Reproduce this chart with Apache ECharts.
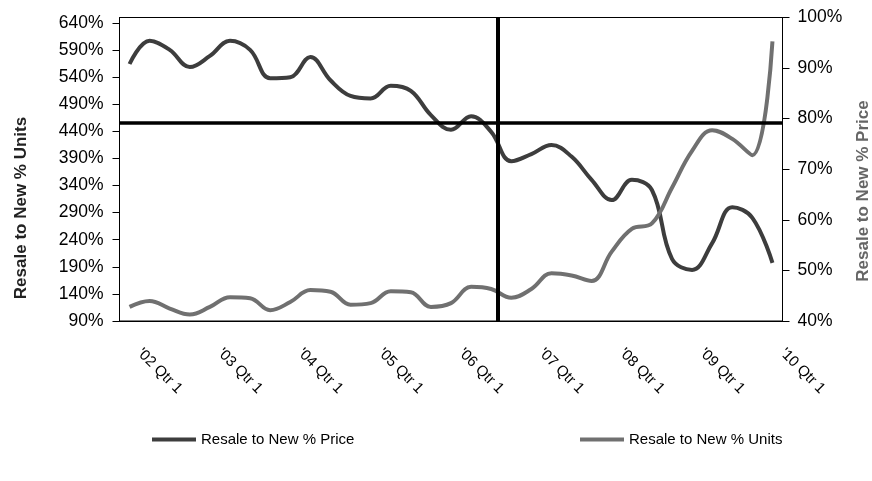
<!DOCTYPE html>
<html><head><meta charset="utf-8">
<script src="https://cdn.jsdelivr.net/npm/echarts@6/dist/echarts.min.js"></script>
<style>html,body{margin:0;padding:0;background:#fff}#c{width:872px;height:481px}</style>
</head><body><div id="c"></div>
<script>
const CATEGORIES = [
  "'02 Qtr 1","'02 Qtr 2","'02 Qtr 3","'02 Qtr 4",
  "'03 Qtr 1","'03 Qtr 2","'03 Qtr 3","'03 Qtr 4",
  "'04 Qtr 1","'04 Qtr 2","'04 Qtr 3","'04 Qtr 4",
  "'05 Qtr 1","'05 Qtr 2","'05 Qtr 3","'05 Qtr 4",
  "'06 Qtr 1","'06 Qtr 2","'06 Qtr 3","'06 Qtr 4",
  "'07 Qtr 1","'07 Qtr 2","'07 Qtr 3","'07 Qtr 4",
  "'08 Qtr 1","'08 Qtr 2","'08 Qtr 3","'08 Qtr 4",
  "'09 Qtr 1","'09 Qtr 2","'09 Qtr 3","'09 Qtr 4",
  "'10 Qtr 1"
];
// Resale to New % Price (right axis, %)
const PRICE = [90.8, 95.4, 93.6, 90.2, 92.4, 95.4, 93.6, 88.0, 88.2, 92.2, 87.6, 84.5, 84.0, 86.5, 85.5, 80.7,
               77.8, 80.5, 77.4, 71.6, 73.0, 74.8, 72.5, 67.9, 63.9, 67.9, 65.9, 52.3, 50.1, 55.4, 62.5, 60.4, 51.5];
// Resale to New % Units (left axis, %)
const UNITS = [116, 127, 113, 102, 116, 134, 132, 110, 125, 147, 144, 120, 123, 145, 143, 116,
               123, 153, 149, 133, 149, 178, 174, 164, 218, 260, 270, 336, 404, 442, 426, 396, 606];
const LEFT_TICKS = [90, 140, 190, 240, 290, 340, 390, 440, 490, 540, 590, 640];
const RIGHT_TICKS = [40, 50, 60, 70, 80, 90, 100];
const PRICE_REF = 79.1;   // horizontal reference line (right axis %)
const TIME_REF = 18.82;   // vertical reference line (quarters from axis start)
const NAME_PRICE = 'Resale to New % Price';
const NAME_UNITS = 'Resale to New % Units';

const FONT = '"Liberation Sans", Arial, sans-serif';
const chart = echarts.init(document.getElementById('c'), null, {renderer: 'canvas'});
const pct = v => v + '%';

chart.setOption({
  animation: false,
  backgroundColor: '#fff',
  textStyle: {fontFamily: FONT},
  grid: {left: 119.5, right: 89.5, top: 17.5, bottom: 160, show: true, borderColor: '#000', borderWidth: 1, backgroundColor: 'transparent'},
  legend: [
    {data: [NAME_PRICE], left: 147, top: 427, icon: 'rect', itemWidth: 44, itemHeight: 4,
     textStyle: {fontFamily: FONT, fontSize: 15, color: '#000'}},
    {data: [NAME_UNITS], left: 575, top: 427, icon: 'rect', itemWidth: 44, itemHeight: 4,
     textStyle: {fontFamily: FONT, fontSize: 15, color: '#000'}}
  ],
  xAxis: [
    {type: 'category', data: CATEGORIES, boundaryGap: true,
     axisLine: {lineStyle: {color: '#000', width: 1}},
     axisTick: {interval: 3, length: 5, lineStyle: {color: '#000'}},
     axisLabel: {interval: 3, rotate: -45, margin: 20, padding: [0, 0, 14, 14], fontSize: 15, color: '#000', fontFamily: FONT},
     splitLine: {show: false}},
    {type: 'value', min: 0, max: 33, show: false}
  ],
  yAxis: [
    {type: 'value', min: 90, max: 650, interval: 50, position: 'left',
     axisLine: {show: true, lineStyle: {color: '#000'}},
     axisTick: {show: true, length: 7, customValues: LEFT_TICKS, lineStyle: {color: '#000'}},
     axisLabel: {customValues: LEFT_TICKS, formatter: pct, margin: 16, fontSize: 17.5, color: '#000', fontFamily: FONT},
     splitLine: {show: false}},
    {type: 'value', min: 40, max: 100, interval: 10, position: 'right',
     axisLine: {show: true, lineStyle: {color: '#000'}},
     axisTick: {show: true, length: 7, customValues: RIGHT_TICKS, lineStyle: {color: '#000'}},
     axisLabel: {customValues: RIGHT_TICKS, formatter: pct, margin: 15, fontSize: 17.5, color: '#000', fontFamily: FONT},
     splitLine: {show: false}}
  ],
  graphic: [
    {type: 'text', x: 21, y: 208, rotation: Math.PI / 2,
     style: {text: NAME_UNITS, font: 'bold 17px ' + FONT, fill: '#222', textAlign: 'center', textVerticalAlign: 'middle', align: 'center', verticalAlign: 'middle'}},
    {type: 'text', x: 863, y: 191, rotation: Math.PI / 2,
     style: {text: NAME_PRICE, font: 'bold 17px ' + FONT, fill: '#666', textAlign: 'center', textVerticalAlign: 'middle', align: 'center', verticalAlign: 'middle'}}
  ],
  series: [
    {name: NAME_PRICE, type: 'line', xAxisIndex: 0, yAxisIndex: 1, data: PRICE, smooth: 0.4,
     showSymbol: false, symbol: 'none', lineStyle: {color: '#3d3d3d', width: 4}, itemStyle: {color: '#3d3d3d'},
     markLine: {silent: true, symbol: 'none', label: {show: false}, lineStyle: {color: '#000', width: 3.5, type: 'solid'},
                data: [{yAxis: PRICE_REF}]}},
    {name: NAME_UNITS, type: 'line', xAxisIndex: 0, yAxisIndex: 0, data: UNITS, smooth: 0.4,
     showSymbol: false, symbol: 'none', lineStyle: {color: '#707070', width: 4}, itemStyle: {color: '#707070'}},
    {name: 'ref', type: 'line', xAxisIndex: 1, yAxisIndex: 0, data: [], z: 5,
     markLine: {silent: true, symbol: 'none', label: {show: false}, lineStyle: {color: '#000', width: 4, type: 'solid'},
                data: [{xAxis: TIME_REF}]}}
  ]
});
</script></body></html>
